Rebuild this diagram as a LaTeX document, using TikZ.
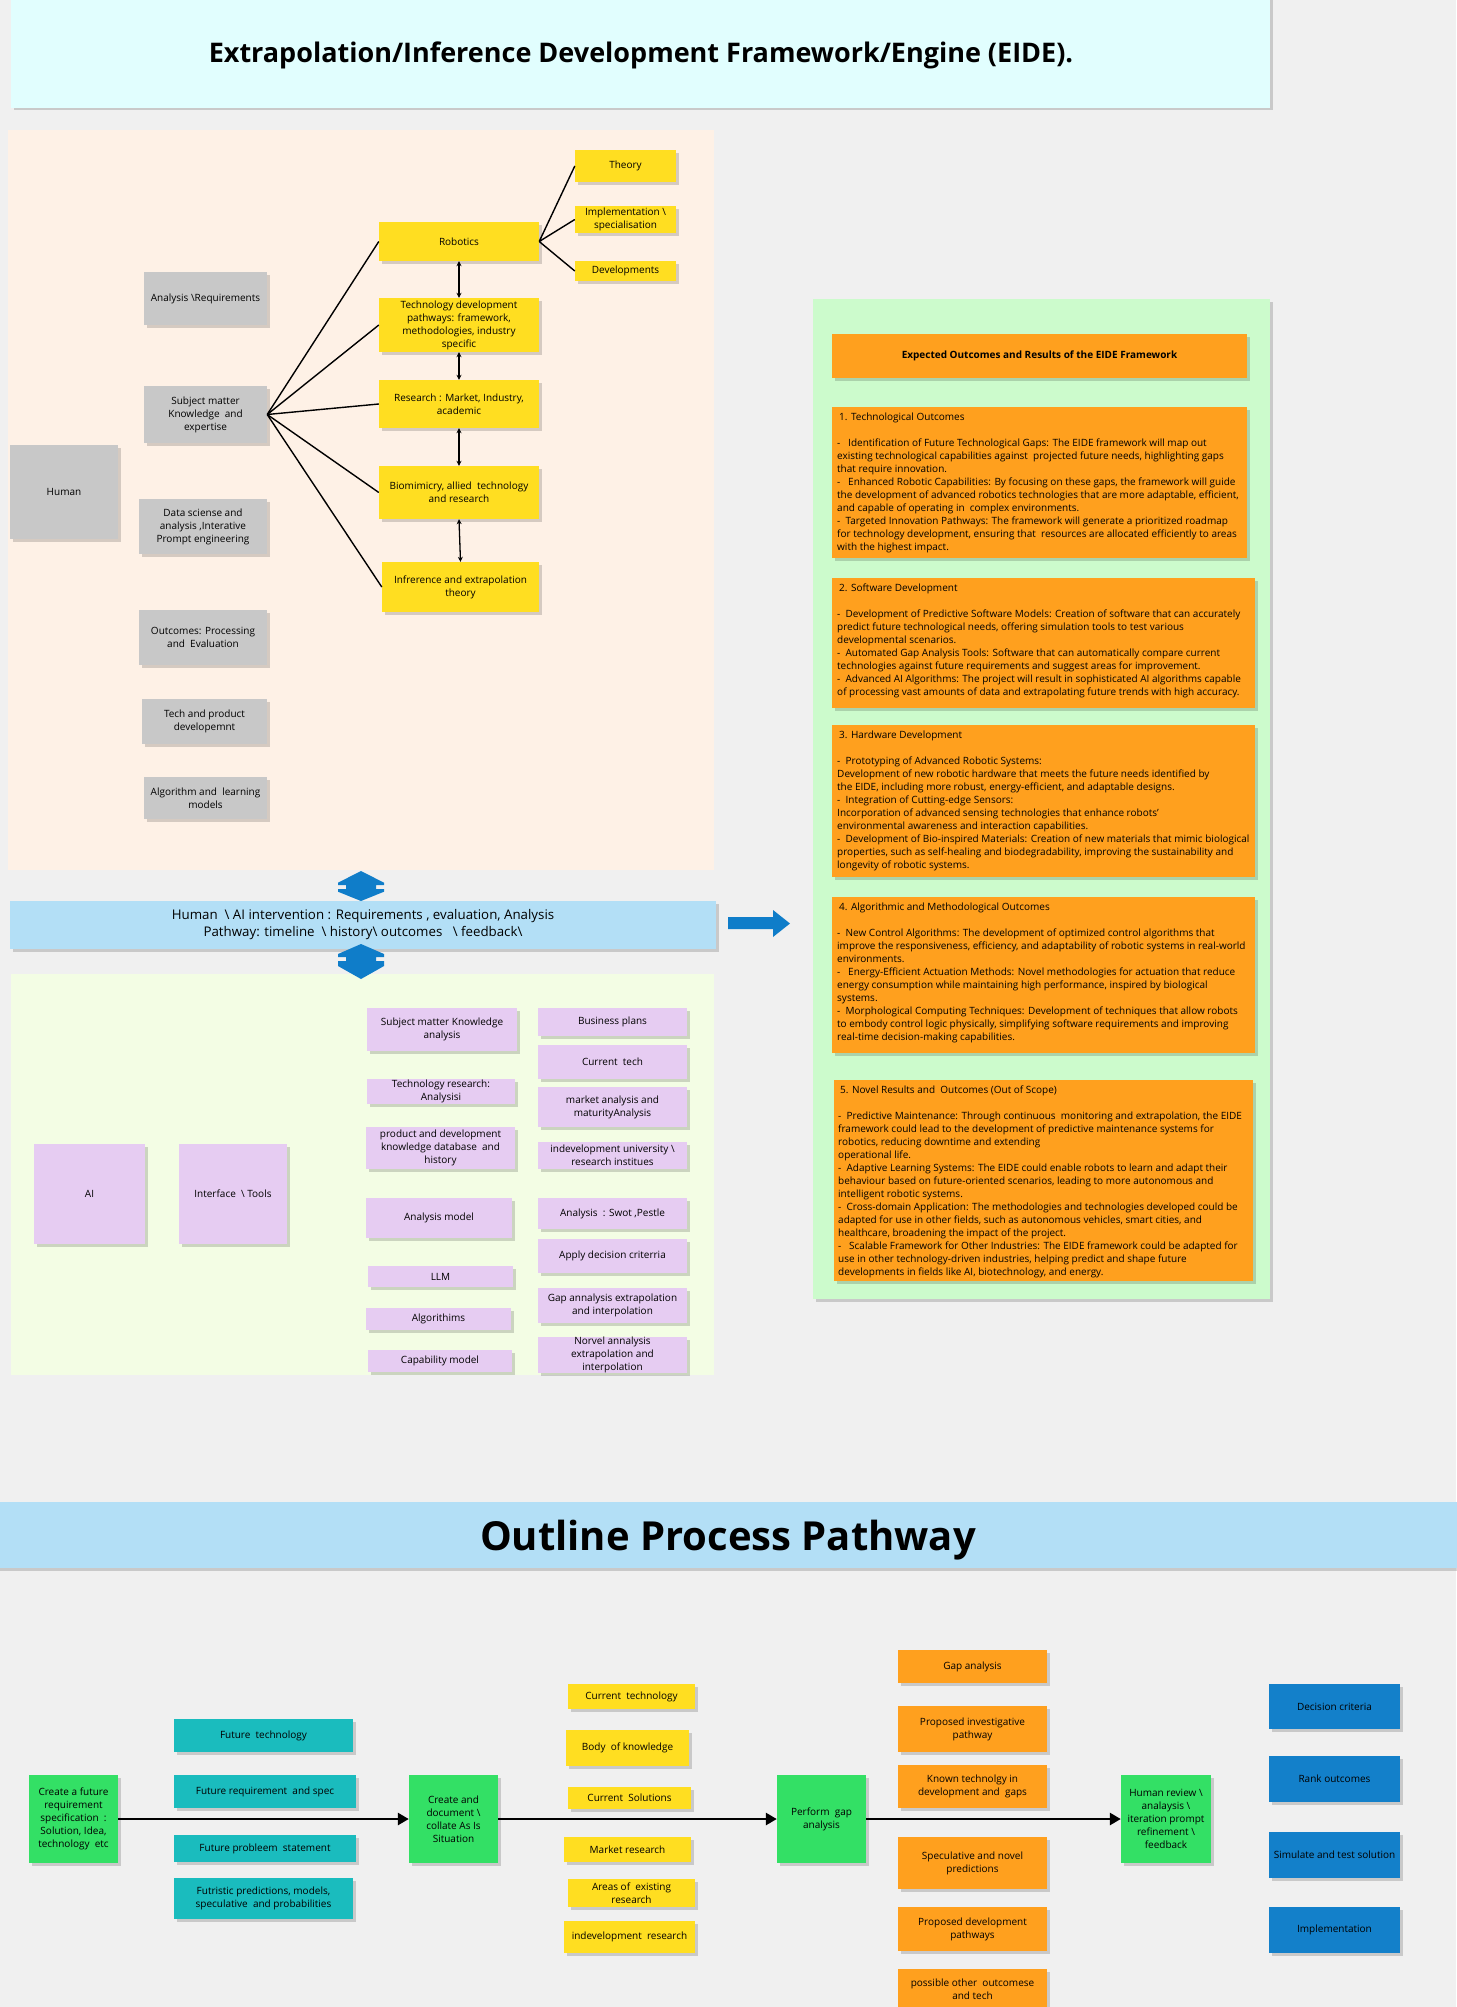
\documentclass[tikz,border=0pt]{standalone}
\usepackage{fontspec}
\setmainfont{Open Sans}
\usetikzlibrary{shadows,arrows.meta}
\definecolor{bgc}{HTML}{F0F0F0}
\definecolor{titlec}{HTML}{E1FEFE}
\definecolor{peach}{HTML}{FEF1E6}
\definecolor{grayb}{HTML}{C8C8C8}
\definecolor{yel}{HTML}{FFDE21}
\definecolor{lblue}{HTML}{B3DFF6}
\definecolor{dblue}{HTML}{0F7DC9}
\definecolor{lgreen}{HTML}{F3FDE4}
\definecolor{purp}{HTML}{E6CCF2}
\definecolor{mint}{HTML}{CCFBCC}
\definecolor{orng}{HTML}{FFA01E}
\definecolor{grn}{HTML}{33E065}
\definecolor{tealb}{HTML}{1ABCBE}
\definecolor{blu}{HTML}{1380CA}
\newcommand{\myfs}[2]{\fontsize{#1}{#2}\selectfont}
\newcommand{\bs}{\textbackslash}
\tikzset{
 shd/.style={drop shadow={shadow xshift=2.5pt,shadow yshift=-2.5pt,fill=black,opacity=0.16}},
 bx/.style={shd,draw=none,inner sep=1pt,align=center,text=black,font=\myfs{10}{13}},
 otext/.style={anchor=north west,inner sep=0pt,align=left,text=black,font=\myfs{10}{13}},
 link/.style={line width=1.4pt,black},
 darr/.style={line width=1.3pt,{Stealth[length=5pt,width=5pt]}-{Stealth[length=5pt,width=5pt]}},
 flow/.style={line width=2.7pt,-{Triangle[length=11pt,width=12pt]}},
 blueshape/.style={fill=dblue}
}
\newcommand{\mybox}[7]{\node[bx,#6,minimum width={(#4-#2)*1pt},minimum height={(#5-#3)*1pt}] (#1) at ({(#2+#4)/2},{(#3+#5)/2}) {#7};}
\begin{document}
\begin{tikzpicture}[x=1pt,y=-1pt]
\useasboundingbox (0,0) rectangle (1456,2007);
\fill[bgc] (0,0) rectangle (1456,2007);
% ---------- title
\mybox{titlebox}{11}{-5}{1270}{108}{fill=titlec}{}
\node[anchor=base,font=\myfs{27}{32}\bfseries,inner sep=0pt] (title) at (641,63) {Extrapolation/Inference Development Framework/Engine (EIDE).};
% ---------- panels
\fill[peach] (8,130) rectangle (714,870);
\fill[lgreen] (11,974) rectangle (714,1375);
\path[shd,fill=mint] (813,299) rectangle (1270,1299);
% ---------- human side (gray)
\mybox{human}{10}{445}{118}{539}{fill=grayb}{Human}
\mybox{areq}{144}{272}{267}{325}{fill=grayb}{Analysis \bs Requirements}
\mybox{smk}{144}{386}{267}{443}{fill=grayb}{Subject matter\\Knowledge\ \ and\\expertise}
\mybox{dsa}{139}{499}{267}{554}{fill=grayb}{Data sciense and\\analysis ,Interative\\Prompt engineering}
\mybox{ope}{139}{610}{267}{665}{fill=grayb}{Outcomes: Processing\\and\ \ Evaluation}
\mybox{tpd}{142}{699}{267}{744}{fill=grayb}{Tech and product\\developemnt}
\mybox{alm}{144}{777}{267}{819}{fill=grayb}{Algorithm and\ \ learning\\models}
% ---------- yellow column
\mybox{rob}{379}{222}{539}{261}{fill=yel}{Robotics}
\mybox{theory}{575}{150}{676}{182}{fill=yel}{Theory}
\mybox{impl}{575}{206}{676}{233}{fill=yel}{Implementation \bs\\specialisation}
\mybox{devs}{575}{261}{676}{281}{fill=yel}{Developments}
\mybox{tdp}{379}{298}{539}{352}{fill=yel}{Technology development\\pathways: framework,\\methodologies, industry\\specific}
\mybox{res}{379}{380}{539}{428}{fill=yel}{Research : Market, Industry,\\academic}
\mybox{bio}{379}{466}{539}{519}{fill=yel}{Biomimicry, allied\ \ technology\\and research}
\mybox{inf}{382}{562}{539}{612}{fill=yel}{Infrerence and extrapolation\\theory}
\foreach \t in {rob,tdp,res,bio,inf} \draw[link] (smk.east) -- (\t.west);
\foreach \t in {theory,impl,devs} \draw[link] (rob.east) -- (\t.west);
\draw[darr] (rob.south) -- (tdp.north);
\draw[darr] (tdp.south) -- (res.north);
\draw[darr] (res.south) -- (bio.north);
\draw[darr] (bio.south) -- (inf.north);
% ---------- banner and blue arrows
\mybox{banner}{10}{901}{716}{949}{fill=lblue,font=\myfs{13.3}{17}}{Human\ \ \bs\ AI intervention : Requirements , evaluation, Analysis\\Pathway: timeline\ \ \bs\ history\bs\ outcomes\ \ \ \bs\ feedback\bs}
\path[blueshape] (361,871) -- (384,882.7) -- (384,885) -- (376,885) -- (376,889) -- (384,889) -- (384,891.7) -- (361,901) -- (338,891.7) -- (338,889) -- (346,889) -- (346,885) -- (338,885) -- (338,882.7) -- cycle;
\path[blueshape] (361,944) -- (384,954) -- (384,957) -- (376,957) -- (376,961) -- (384,961) -- (384,966) -- (361,979) -- (338,966) -- (338,961) -- (346,961) -- (346,957) -- (338,957) -- (338,954) -- cycle;
\path[blueshape] (728,917) -- (773,917) -- (773,910) -- (790,923.5) -- (773,937) -- (773,929) -- (728,929) -- cycle;
% ---------- AI side (purple)
\mybox{ai}{34}{1144}{145}{1244}{fill=purp}{AI}
\mybox{itools}{179}{1144}{287}{1244}{fill=purp}{Interface\ \ \bs\ Tools}
\mybox{p1}{367}{1008}{517}{1051}{fill=purp}{Subject matter Knowledge\\analysis}
\mybox{p2}{367}{1079}{515}{1104}{fill=purp,inner sep=0pt}{Technology research:\\Analysisi}
\mybox{p3}{366}{1127}{515}{1169}{fill=purp}{product and development\\knowledge database\ \ and\\history}
\mybox{p4}{366}{1198}{512}{1238}{fill=purp}{Analysis model}
\mybox{p5}{368}{1266}{513}{1287}{fill=purp}{LLM}
\mybox{p6}{366}{1308}{511}{1330}{fill=purp}{Algorithims}
\mybox{p7}{368}{1350}{512}{1372}{fill=purp}{Capability model}
\mybox{q1}{538}{1008}{687}{1036}{fill=purp}{Business plans}
\mybox{q2}{538}{1045}{687}{1079}{fill=purp}{Current\ \ tech}
\mybox{q3}{538}{1087}{687}{1127}{fill=purp}{market analysis and\\maturityAnalysis}
\mybox{q4}{538}{1142}{687}{1169}{fill=purp}{indevelopment university \bs\\research institues}
\mybox{q5}{538}{1198}{687}{1229}{fill=purp}{Analysis\ \ : Swot ,Pestle}
\mybox{q6}{538}{1239}{687}{1273}{fill=purp}{Apply decision criterria}
\mybox{q7}{538}{1288}{687}{1323}{fill=purp}{Gap annalysis extrapolation\\and interpolation}
\mybox{q8}{538}{1337}{687}{1373}{fill=purp,inner sep=0pt}{Norvel annalysis\\extrapolation and\\interpolation}
% ---------- expected outcomes
\mybox{eh}{832}{334}{1247}{378}{fill=orng,font=\myfs{10}{13}\bfseries}{Expected Outcomes and Results of the EIDE Framework}
\mybox{oc1}{832}{407}{1247}{558}{fill=orng}{}
\mybox{oc2}{832}{578}{1255}{708}{fill=orng}{}
\mybox{oc3}{832}{725}{1255}{877}{fill=orng}{}
\mybox{oc4}{832}{897}{1255}{1053}{fill=orng}{}
\mybox{oc5}{834}{1080}{1253}{1281}{fill=orng}{}
\node[otext] (oc1t) at (837,411) {\strut\hspace{2pt}1. Technological Outcomes\\[13pt]
-\ \ \ Identification of Future Technological Gaps: The EIDE framework will map out\\
existing technological capabilities against\ \ projected future needs, highlighting gaps\\
that require innovation.\\
-\ \ \ Enhanced Robotic Capabilities: By focusing on these gaps, the framework will guide\\
the development of advanced robotics technologies that are more adaptable, efficient,\\
and capable of operating in\ \ complex environments.\\
-\ \ Targeted Innovation Pathways: The framework will generate a prioritized roadmap\\
for technology development, ensuring that\ \ resources are allocated efficiently to areas\\
with the highest impact.};
\node[otext] (oc2t) at (837,582) {\strut\hspace{2pt}2. Software Development\\[13pt]
-\ \ Development of Predictive Software Models: Creation of software that can accurately\\
predict future technological needs, offering simulation tools to test various\\
developmental scenarios.\\
-\ \ Automated Gap Analysis Tools: Software that can automatically compare current\\
technologies against future requirements and suggest areas for improvement.\\
-\ \ Advanced AI Algorithms: The project will result in sophisticated AI algorithms capable\\
of processing vast amounts of data and extrapolating future trends with high accuracy.};
\node[otext] (oc3t) at (837,729) {\strut\hspace{2pt}3. Hardware Development\\[13pt]
-\ \ Prototyping of Advanced Robotic Systems:\\
Development of new robotic hardware that meets the future needs identified by\\
the EIDE, including more robust, energy-efficient, and adaptable designs.\\
-\ \ Integration of Cutting-edge Sensors:\\
Incorporation of advanced sensing technologies that enhance robots'\\
environmental awareness and interaction capabilities.\\
-\ \ Development of Bio-inspired Materials: Creation of new materials that mimic biological\\
properties, such as self-healing and biodegradability, improving the sustainability and\\
longevity of robotic systems.};
\node[otext] (oc4t) at (837,901) {\strut\hspace{2pt}4. Algorithmic and Methodological Outcomes\\[13pt]
-\ \ New Control Algorithms: The development of optimized control algorithms that\\
improve the responsiveness, efficiency, and adaptability of robotic systems in real-world\\
environments.\\
-\ \ \ Energy-Efficient Actuation Methods: Novel methodologies for actuation that reduce\\
energy consumption while maintaining high performance, inspired by biological\\
systems.\\
-\ \ Morphological Computing Techniques: Development of techniques that allow robots\\
to embody control logic physically, simplifying software requirements and improving\\
real-time decision-making capabilities.};
\node[otext] (oc5t) at (838,1084) {\strut\hspace{2pt}5. Novel Results and\ \ Outcomes (Out of Scope)\\[13pt]
-\ \ Predictive Maintenance: Through continuous\ \ monitoring and extrapolation, the EIDE\\
framework could lead to the development of predictive maintenance systems for\\
robotics, reducing downtime and extending\\
operational life.\\
-\ \ Adaptive Learning Systems: The EIDE could enable robots to learn and adapt their\\
behaviour based on future-oriented scenarios, leading to more autonomous and\\
intelligent robotic systems.\\
-\ \ Cross-domain Application: The methodologies and technologies developed could be\\
adapted for use in other fields, such as autonomous vehicles, smart cities, and\\
healthcare, broadening the impact of the project.\\
-\ \ \ Scalable Framework for Other Industries: The EIDE framework could be adapted for\\
use in other technology-driven industries, helping predict and shape future\\
developments in fields like AI, biotechnology, and energy.};
% ---------- outline process pathway
\mybox{outlinebar}{-5}{1502}{1461}{1568}{fill=lblue}{}
\node[anchor=base,font=\myfs{40}{46}\bfseries,inner sep=0pt] (outline) at (728,1550) {Outline Process Pathway};
\mybox{cf}{29}{1775}{118}{1863}{fill=grn}{Create a future\\requirement\\specification\ \ :\\Solution, Idea,\\technology\ \ etc}
\mybox{cd}{409}{1775}{498}{1863}{fill=grn}{Create and\\document \bs\\collate As Is\\Situation}
\mybox{pg}{777}{1775}{866}{1863}{fill=grn}{Perform\ \ gap\\analysis}
\mybox{hr}{1121}{1775}{1211}{1863}{fill=grn}{Human review \bs\\analaysis \bs\\iteration prompt\\refinement \bs\\feedback}
\mybox{t1}{174}{1719}{353}{1752}{fill=tealb}{Future\ \ technology}
\mybox{t2}{174}{1775}{356}{1808}{fill=tealb}{Future requirement\ \ and spec}
\mybox{t3}{174}{1835}{356}{1862}{fill=tealb}{Future probleem\ \ statement}
\mybox{t4}{174}{1878}{353}{1919}{fill=tealb}{Futristic predictions, models,\\speculative\ \ and probabilities}
\mybox{y1}{568}{1684}{695}{1709}{fill=yel}{Current\ \ technology}
\mybox{y2}{566}{1730}{689}{1766}{fill=yel}{Body\ \ of knowledge}
\mybox{y3}{568}{1787}{691}{1809}{fill=yel}{Current\ \ Solutions}
\mybox{y4}{564}{1837}{691}{1862}{fill=yel}{Market research}
\mybox{y5}{568}{1879}{695}{1907}{fill=yel}{Areas of\ \ existing\\research}
\mybox{y6}{564}{1921}{695}{1953}{fill=yel}{indevelopment\ \ research}
\mybox{o1}{898}{1650}{1047}{1683}{fill=orng}{Gap analysis}
\mybox{o2}{898}{1706}{1047}{1752}{fill=orng}{Proposed investigative\\pathway}
\mybox{o3}{898}{1765}{1047}{1808}{fill=orng}{Known technolgy in\\development and\ \ gaps}
\mybox{o4}{898}{1837}{1047}{1889}{fill=orng}{Speculative and novel\\predictions}
\mybox{o5}{898}{1907}{1047}{1951}{fill=orng}{Proposed development\\pathways}
\mybox{o6}{898}{1969}{1047}{2010}{fill=orng}{possible other\ \ outcomese\\and tech}
\mybox{b1}{1269}{1684}{1400}{1729}{fill=blu}{Decision criteria}
\mybox{b2}{1269}{1756}{1400}{1802}{fill=blu}{Rank outcomes}
\mybox{b3}{1269}{1832}{1400}{1878}{fill=blu}{Simulate and test solution}
\mybox{b4}{1269}{1907}{1400}{1953}{fill=blu}{Implementation}
\draw[flow] (cf.east) -- (cd.west);
\draw[flow] (cd.east) -- (pg.west);
\draw[flow] (pg.east) -- (hr.west);
\end{tikzpicture}
\end{document}
